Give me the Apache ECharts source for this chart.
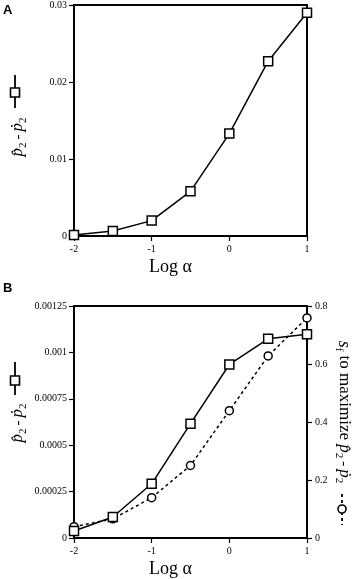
<!DOCTYPE html>
<html>
<head>
<meta charset="utf-8">
<script src="https://cdn.jsdelivr.net/npm/echarts@6/dist/echarts.min.js"></script>
<style>
html,body{margin:0;padding:0;background:#fff;}
#c{width:360px;height:579px;}
</style>
</head>
<body>
<div id="c"></div>
<script>
// ---- data ----
var logAlpha = [-2, -1.5, -1, -0.5, 0, 0.5, 1];
var diffA = [0.00013, 0.00065, 0.0020, 0.0058, 0.0133, 0.0227, 0.0290];
var diffB = [0.000038, 0.000113, 0.000292, 0.000616, 0.000935, 0.001073, 0.001098];
var sfB = [0.039, 0.066, 0.139, 0.250, 0.439, 0.628, 0.759];
var xTickLabels = ['-2', '-1', '0', '1'];
var yTickLabelsA = ['0', '0.01', '0.02', '0.03'];
var yTickLabelsB = ['0', '0.00025', '0.0005', '0.00075', '0.001', '0.00125'];
var y2TickLabelsB = ['0', '0.2', '0.4', '0.6', '0.8'];

function labelFor(list) {
  return function (v) {
    var best = list[0], bd = Infinity;
    for (var i = 0; i < list.length; i++) {
      var d = Math.abs(parseFloat(list[i]) - v);
      if (d < bd) { bd = d; best = list[i]; }
    }
    return best;
  };
}
function pairs(xs, ys) { return xs.map(function (x, i) { return [x, ys[i]]; }); }

var SERIF = '"Liberation Serif", "DejaVu Serif", serif';
var axisLine = { show: true, onZero: false, lineStyle: { color: '#000', width: 2 } };
var axisTick = { show: true, inside: false, length: 5, lineStyle: { color: '#000', width: 1.2 } };
var tickFont = { color: '#000', fontFamily: SERIF, fontSize: 10 };

function xAxisDef(gi) {
  return {
    type: 'value', gridIndex: gi, min: -2, max: 1, interval: 1,
    axisLine: axisLine, axisTick: axisTick, splitLine: { show: false },
    axisLabel: Object.assign({ margin: 8, formatter: labelFor(xTickLabels) }, tickFont),
    name: 'Log \u03B1', nameLocation: 'middle', nameGap: 22,
    nameTextStyle: { color: '#000', fontFamily: SERIF, fontSize: 18, padding: [0, 40, 0, 0] }
  };
}

var richP = {
  p: { fontFamily: SERIF, fontStyle: 'italic', fontSize: 17, lineHeight: 22, verticalAlign: 'middle', fill: '#000' },
  s: { fontFamily: SERIF, fontSize: 11, lineHeight: 22, verticalAlign: 'bottom', fill: '#000' },
  m: { fontFamily: SERIF, fontSize: 15, lineHeight: 22, verticalAlign: 'middle', fill: '#000' },
  t: { fontFamily: SERIF, fontSize: 17, lineHeight: 22, verticalAlign: 'middle', fill: '#000' },
  si: { fontFamily: SERIF, fontStyle: 'italic', fontSize: 18, lineHeight: 22, verticalAlign: 'middle', fill: '#000' }
};
var formula = '{p|p\u0302}{s|2}{m|\u2009-\u2009}{p|\u1E57}{s|2}';

function titleText(x, y, rot, text) {
  return {
    type: 'text', x: x, y: y, rotation: rot, z: 10,
    style: { text: text, rich: richP, align: 'center', verticalAlign: 'middle', fill: '#000' }
  };
}
function squareLegend(x, y1, y2, yc) {
  return [
    { type: 'line', shape: { x1: x, y1: y1, x2: x, y2: y2 }, style: { stroke: '#000', lineWidth: 1.8 } },
    { type: 'rect', shape: { x: x - 4.5, y: yc - 4.5, width: 9, height: 9 }, style: { fill: '#fff', stroke: '#000', lineWidth: 1.6 } }
  ];
}

var graphics = [
  { type: 'text', x: 3, y: 4, style: { text: 'A', fontFamily: 'Liberation Sans, Arial, sans-serif', fontWeight: 'bold', fontSize: 13, fill: '#000' } },
  { type: 'text', x: 3, y: 282, style: { text: 'B', fontFamily: 'Liberation Sans, Arial, sans-serif', fontWeight: 'bold', fontSize: 13, fill: '#000' } },
  titleText(18, 137, Math.PI / 2, formula),
  titleText(18, 423, Math.PI / 2, formula),
  titleText(344, 412, -Math.PI / 2, '{si|s}{s|f}{t| to maximize }' + formula)
].concat(squareLegend(15, 75, 108, 92.5))
 .concat(squareLegend(15, 362, 395, 380.5))
 .concat([
  { type: 'line', shape: { x1: 342, y1: 494, x2: 342, y2: 525 }, style: { stroke: '#000', lineWidth: 1.8, lineDash: [3, 3] } },
  { type: 'circle', shape: { cx: 342, cy: 509, r: 4 }, style: { fill: '#fff', stroke: '#000', lineWidth: 1.6 } }
 ]);

var chart = echarts.init(document.getElementById('c'), null, { renderer: 'canvas' });
chart.setOption({
  animation: false,
  backgroundColor: '#fff',
  grid: [
    { left: 74, top: 4, width: 233, height: 232, show: true, borderColor: '#000', borderWidth: 2, backgroundColor: 'transparent' },
    { left: 74, top: 306, width: 233, height: 233, show: true, borderColor: '#000', borderWidth: 2, backgroundColor: 'transparent' }
  ],
  xAxis: [xAxisDef(0), xAxisDef(1)],
  yAxis: [
    { type: 'value', gridIndex: 0, min: 0, max: 0.03, interval: 0.01, position: 'left',
      axisLine: axisLine, axisTick: axisTick, splitLine: { show: false },
      axisLabel: Object.assign({ margin: 7, formatter: labelFor(yTickLabelsA) }, tickFont) },
    { type: 'value', gridIndex: 1, min: 0, max: 0.00125, interval: 0.00025, position: 'left',
      axisLine: axisLine, axisTick: axisTick, splitLine: { show: false },
      axisLabel: Object.assign({ margin: 7, formatter: labelFor(yTickLabelsB) }, tickFont) },
    { type: 'value', gridIndex: 1, min: 0, max: 0.8, interval: 0.2, position: 'right',
      axisLine: axisLine, axisTick: axisTick, splitLine: { show: false },
      axisLabel: Object.assign({ margin: 8, formatter: labelFor(y2TickLabelsB) }, tickFont) }
  ],
  series: [
    { type: 'line', xAxisIndex: 0, yAxisIndex: 0, data: pairs(logAlpha, diffA),
      symbol: 'rect', symbolSize: 9, z: 3,
      lineStyle: { color: '#000', width: 1.5 },
      itemStyle: { color: '#fff', borderColor: '#000', borderWidth: 1.5 } },
    { type: 'line', xAxisIndex: 1, yAxisIndex: 2, data: pairs(logAlpha, sfB),
      symbol: 'circle', symbolSize: 8, z: 3,
      lineStyle: { color: '#000', width: 1.5, type: [3, 3] },
      itemStyle: { color: '#fff', borderColor: '#000', borderWidth: 1.5 } },
    { type: 'line', xAxisIndex: 1, yAxisIndex: 1, data: pairs(logAlpha, diffB),
      symbol: 'rect', symbolSize: 9, z: 4,
      lineStyle: { color: '#000', width: 1.5 },
      itemStyle: { color: '#fff', borderColor: '#000', borderWidth: 1.5 } }
  ],
  graphic: graphics
});
</script>
</body>
</html>
